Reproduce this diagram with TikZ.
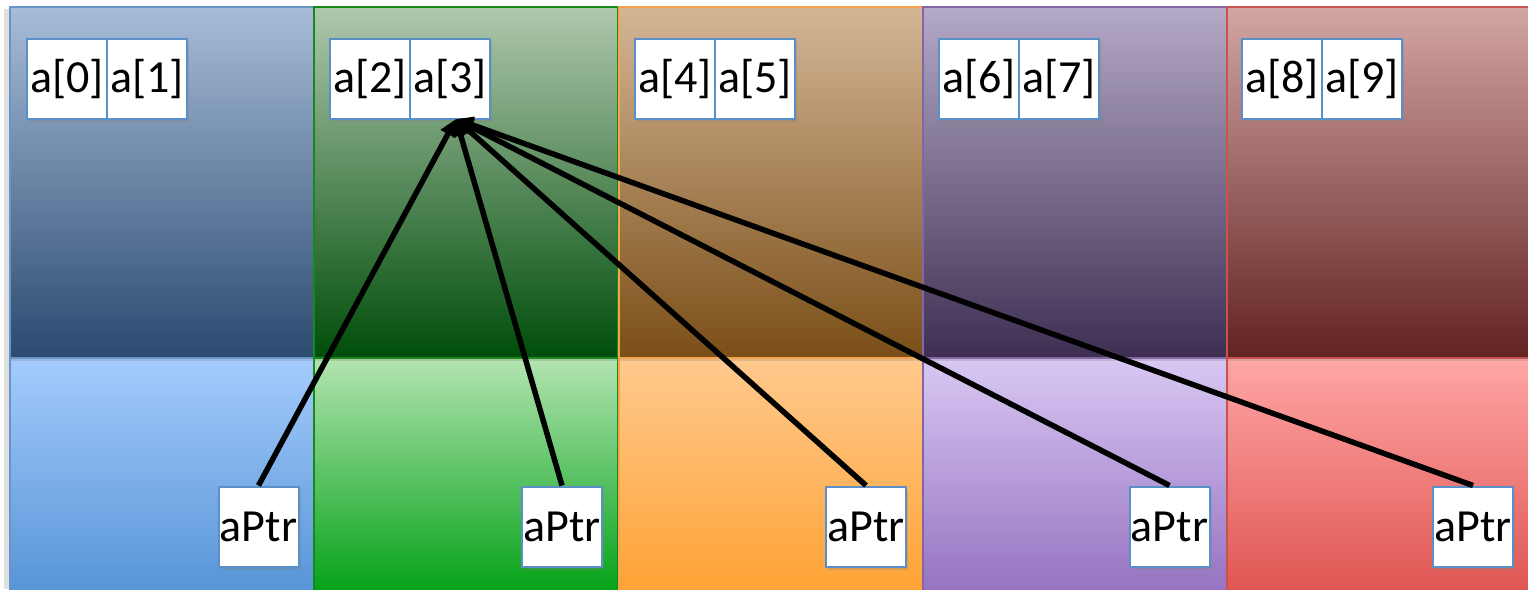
\documentclass[tikz,border=0pt]{standalone}
\usepackage{fontspec}
\setmainfont{Carlito}
\usetikzlibrary{arrows.meta,shadows}
\definecolor{tA1}{HTML}{A7BCD8}\definecolor{tA2}{HTML}{2B4A70}
\definecolor{bA1}{HTML}{A5CBFD}\definecolor{bA2}{HTML}{5493D5}\definecolor{eA}{HTML}{6895C8}
\definecolor{tB1}{HTML}{AFC8AD}\definecolor{tB2}{HTML}{004D0A}
\definecolor{bB1}{HTML}{B3E4B1}\definecolor{bB2}{HTML}{00A014}\definecolor{eB}{HTML}{17881C}
\definecolor{tC1}{HTML}{D4B696}\definecolor{tC2}{HTML}{7A4E17}
\definecolor{bC1}{HTML}{FFC98E}\definecolor{bC2}{HTML}{FFA232}\definecolor{eC}{HTML}{F7A34E}
\definecolor{tD1}{HTML}{B4A9C6}\definecolor{tD2}{HTML}{3E2F52}
\definecolor{bD1}{HTML}{D8C8F3}\definecolor{bD2}{HTML}{9470BF}\definecolor{eD}{HTML}{8266A6}
\definecolor{tE1}{HTML}{D2A5A3}\definecolor{tE2}{HTML}{622321}
\definecolor{bE1}{HTML}{FFA6A6}\definecolor{bE2}{HTML}{DE5450}\definecolor{eE}{HTML}{C9514E}
\definecolor{boxedge}{HTML}{5B8FC8}
\tikzset{
  x=1pt,y=-1pt,
  colbox/.style={rectangle,inner sep=0pt,outer sep=0pt,minimum width=304pt,anchor=north west,line width=2pt},
  topbox/.style={colbox,minimum height=351pt,drop shadow={opacity=0.25,shadow xshift=0pt,shadow yshift=-3pt}},
  botbox/.style={colbox,minimum height=240pt},
  cell/.style={rectangle,draw=boxedge,line width=2pt,fill=white,inner sep=0pt,minimum width=80pt,minimum height=80pt,
     font=\fontsize{46}{50}\selectfont,drop shadow={opacity=0.3,shadow xshift=2pt,shadow yshift=-3pt}},
  ptr/.style={line width=5.5pt,-{Triangle[length=17pt,width=16pt]}}
}
\begin{document}
\begin{tikzpicture}
\useasboundingbox (0,0) rectangle (1528,589);
\clip (0,0) rectangle (1528,589);
\fill[black,opacity=0.12] (4,9) rectangle (10,589);
% bottom halves
\node[botbox,draw=eA,top color=bA1,bottom color=bA2] (b1) at (10,358) {};
\node[botbox,draw=eB,top color=bB1,bottom color=bB2] (b2) at (314.3,358) {};
\node[botbox,draw=eC,top color=bC1,bottom color=bC2] (b3) at (618.6,358) {};
\node[botbox,draw=eD,top color=bD1,bottom color=bD2] (b4) at (922.9,358) {};
\node[botbox,draw=eE,top color=bE1,bottom color=bE2] (b5) at (1227.2,358) {};
% top halves
\node[topbox,draw=eA,top color=tA1,bottom color=tA2] (t1) at (10,7) {};
\node[topbox,draw=eB,top color=tB1,bottom color=tB2] (t2) at (314.3,7) {};
\node[topbox,draw=eC,top color=tC1,bottom color=tC2] (t3) at (618.6,7) {};
\node[topbox,draw=eD,top color=tD1,bottom color=tD2] (t4) at (922.9,7) {};
\node[topbox,draw=eE,top color=tE1,bottom color=tE2] (t5) at (1227.2,7) {};
% array cells
\node[cell] (a0) at (67,79) {a[0]};
\node[cell] (a1) at (147,79) {a[1]};
\node[cell] (a2) at (370,79) {a[2]};
\node[cell] (a3) at (450,79) {a[3]};
\node[cell] (a4) at (675,79) {a[4]};
\node[cell] (a5) at (755,79) {a[5]};
\node[cell] (a6) at (979,79) {a[6]};
\node[cell] (a7) at (1059,79) {a[7]};
\node[cell] (a8) at (1282,79) {a[8]};
\node[cell] (a9) at (1362,79) {a[9]};
% pointers
\node[cell] (p1) at (258.5,526.5) {aPtr};
\node[cell] (p2) at (562,526.5) {aPtr};
\node[cell] (p3) at (866,526.5) {aPtr};
\node[cell] (p4) at (1169.5,526.5) {aPtr};
\node[cell] (p5) at (1473,526.5) {aPtr};
\coordinate (tgt) at (456,119);
\draw[ptr] (p1.north) -- (tgt);
\draw[ptr] (p2.north) -- (tgt);
\draw[ptr] (p3.north) -- (tgt);
\draw[ptr] (p4.north) -- (tgt);
\draw[ptr] (p5.north) -- (tgt);
\end{tikzpicture}
\end{document}
